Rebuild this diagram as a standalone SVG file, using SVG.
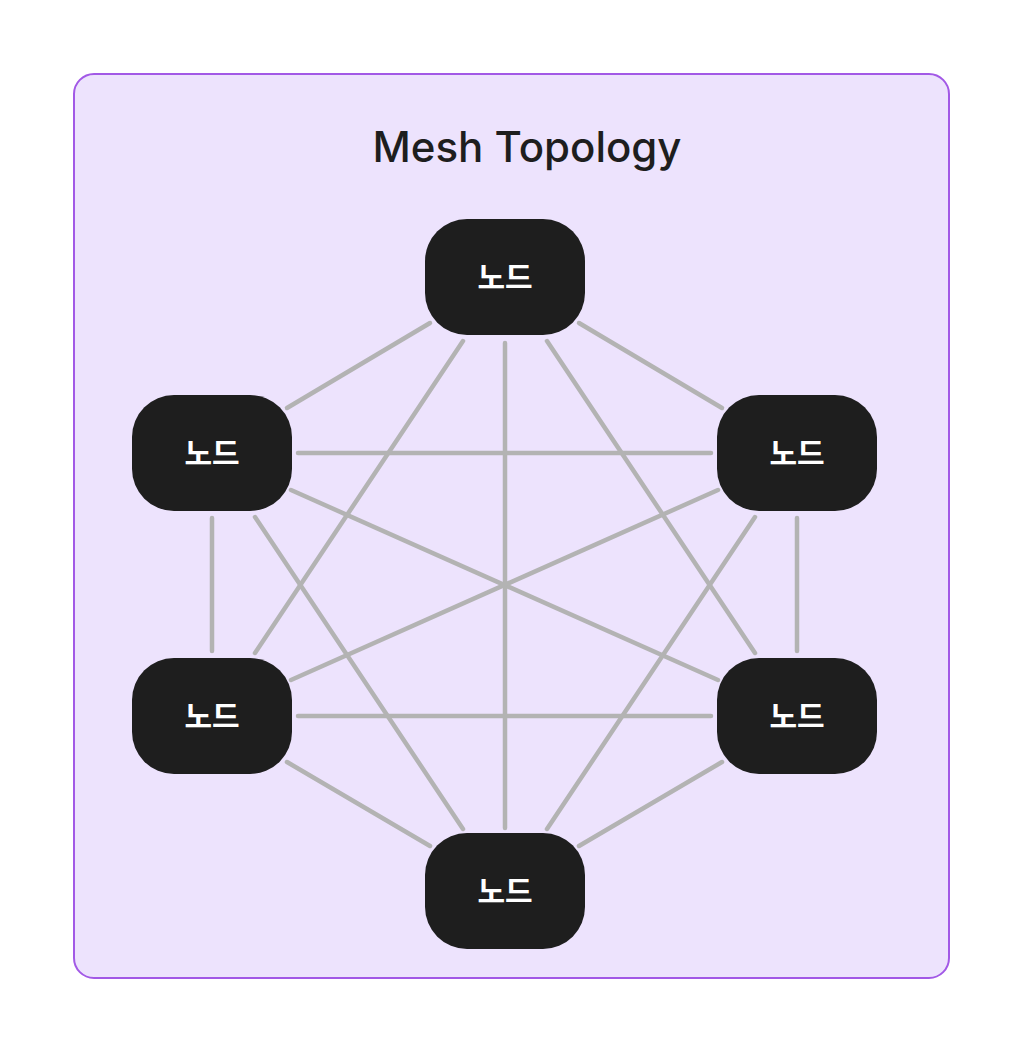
<svg xmlns="http://www.w3.org/2000/svg" width="1024" height="1053" viewBox="0 0 1024 1053">
<style>
.frame{fill:#ede3fd;stroke:#a259e6;stroke-width:2}
.title{font-family:Inter,"Noto Sans",sans-serif;font-size:42px;font-weight:500;fill:#1e1e1e;text-anchor:middle}
.node rect{fill:#1e1e1e}
.node text{font-family:"Noto Sans CJK KR",sans-serif;font-size:30px;font-weight:700;fill:#ffffff;text-anchor:middle}
.edges line{stroke:#b3b3b3;stroke-width:4.5;stroke-linecap:round}
</style>
<rect class="frame" x="74" y="74" width="875" height="904" rx="20"/>
<text class="title" x="527" y="162">Mesh Topology</text>
<g class="edges" id="connectors">
<line x1="430" y1="323" x2="287" y2="408"/>
<line x1="463" y1="341" x2="255" y2="653"/>
<line x1="505" y1="343" x2="505" y2="828"/>
<line x1="547" y1="341" x2="755" y2="653"/>
<line x1="579" y1="323" x2="722" y2="408"/>
<line x1="298" y1="453" x2="711" y2="453"/>
<line x1="212" y1="518" x2="212" y2="651"/>
<line x1="291" y1="490" x2="718" y2="680"/>
<line x1="255" y1="517" x2="463" y2="829"/>
<line x1="718" y1="490" x2="291" y2="680"/>
<line x1="797" y1="518" x2="797" y2="651"/>
<line x1="755" y1="517" x2="547" y2="829"/>
<line x1="298" y1="716" x2="711" y2="716"/>
<line x1="287" y1="762" x2="430" y2="846"/>
<line x1="722" y1="762" x2="579" y2="846"/>
</g>
<g class="node" id="node-top"><rect x="425" y="219" width="160" height="116" rx="42"/><text x="505" y="288">노드</text></g>
<g class="node" id="node-upper-left"><rect x="132" y="395" width="160" height="116" rx="42"/><text x="212" y="464">노드</text></g>
<g class="node" id="node-upper-right"><rect x="717" y="395" width="160" height="116" rx="42"/><text x="797" y="464">노드</text></g>
<g class="node" id="node-lower-left"><rect x="132" y="658" width="160" height="116" rx="42"/><text x="212" y="727">노드</text></g>
<g class="node" id="node-lower-right"><rect x="717" y="658" width="160" height="116" rx="42"/><text x="797" y="727">노드</text></g>
<g class="node" id="node-bottom"><rect x="425" y="833" width="160" height="116" rx="42"/><text x="505" y="902">노드</text></g>
</svg>
